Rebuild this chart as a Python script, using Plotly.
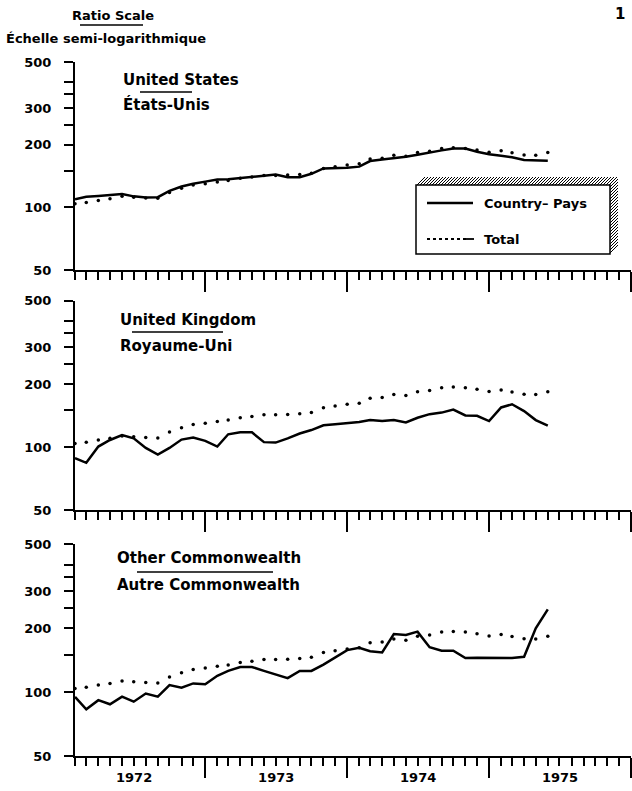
import plotly.graph_objects as go
import pandas as pd

# ---------------- data ----------------
start_month = "1972-02-01"
n_months = 41
months = pd.date_range(start_month, periods=n_months, freq="MS")

total = [104, 105.5, 108, 110, 113, 112, 111, 110.5, 118, 123.5,
         128, 130, 132.5, 134.5, 138, 140, 142.5, 142.5, 143, 144,
         146, 154, 157, 160, 162, 171, 172.5, 178, 176, 183.5,
         186, 192, 193.5, 192, 188.5, 184, 187, 183, 178.5, 178, 183.5]

united_states = [109.5, 112.5, 113.5, 114.5, 116, 113, 111.5, 112, 120, 126,
                 130, 133, 136, 136.5, 138, 139.5, 142, 144, 139.5, 139.5,
                 145, 154, 154.5, 155, 157, 167, 170, 172, 175, 179,
                 184, 188, 192, 192, 185, 180, 177, 174, 169, 168, 167.5]

united_kingdom = [88.5, 84, 100.5, 108, 114, 110, 99, 92, 99, 108.5,
                  111, 107, 100.5, 115, 117.5, 117.5, 105.5, 105, 110, 116,
                  120.5, 127, 128.5, 130.5, 131.5, 134.5, 133, 134.5, 131, 138,
                  143.5, 146, 151, 141.5, 141, 133, 154.5, 160, 148.5, 134.5, 126.5]

other_commonwealth = [95, 83, 91.7, 87.7, 95.3, 90.2, 98.5, 95.3, 108, 105,
                      110, 109, 119.5, 126, 131.5, 131.5, 126, 121.5, 116.5, 126,
                      126, 135, 146, 158, 162, 156, 154, 188, 186, 193,
                      163, 157, 157, 145, 145.5, 145.5, 145.5, 145, 147, 200, 246]

countries = [united_states, united_kingdom, other_commonwealth]
titles_en = ["United States", "United Kingdom", "Other Commonwealth"]
titles_fr = ["États-Unis", "Royaume-Uni", "Autre Commonwealth"]

y_tickvals = [50, 100, 200, 300, 500]
y_ticktext = ["50", "100", "200", "300", "500"]
y_minor_tickvals = [150, 250, 350, 400]
x_range = ["1972-02-01", "1976-01-01"]

# ---------------- layout geometry ----------------
W, H = 632, 791
L, R, T, B = 75, 1, 62, 35
PW, PH = W - L - R, H - T - B


def px(x):
    return (x - L) / PW


def py(y):
    return (H - B - y) / PH


panel_px = [(62, 270), (300.7, 510), (544, 756)]
FONT = "DejaVu Sans"

fig = go.Figure()

layout = dict(
    width=W, height=H,
    margin=dict(l=L, r=R, t=T, b=B, pad=0),
    paper_bgcolor="white", plot_bgcolor="white",
    showlegend=False,
    font=dict(family=FONT, color="black", size=13, weight="bold"),
)

for k, country in enumerate(countries):
    sfx = "" if k == 0 else str(k + 1)
    xa, ya = "x" + sfx, "y" + sfx
    fig.add_trace(go.Scatter(x=months, y=total, mode="markers",
                             marker=dict(size=3.5, color="black"),
                             xaxis=xa, yaxis=ya, name="Total"))
    fig.add_trace(go.Scatter(x=months, y=country, mode="lines",
                             line=dict(color="black", width=2.5),
                             xaxis=xa, yaxis=ya, name="Country"))
    top, bot = panel_px[k]
    layout["xaxis" + sfx] = dict(
        type="date", range=x_range, domain=[0, 1], anchor=ya,
        showline=True, linewidth=2, linecolor="black", showgrid=False, zeroline=False,
        ticks="outside", tickmode="linear", tick0="1972-01-01", dtick="M12",
        ticklen=20, tickwidth=2, tickcolor="black",
        ticklabelmode="period", tickformat="%Y",
        showticklabels=(k == 2), ticklabelstandoff=-12,
        tickfont=dict(family=FONT, size=13, color="black", weight="bold"),
        minor=dict(ticks="outside", tick0="1972-01-01", dtick="M1",
                   ticklen=8, tickwidth=1.5, tickcolor="black", showgrid=False),
    )
    layout["yaxis" + sfx] = dict(
        type="log", range=[1.69897, 2.69897], domain=[py(bot), py(top)], anchor=xa,
        showline=True, linewidth=2, linecolor="black", showgrid=False, zeroline=False,
        tickmode="array", tickvals=y_tickvals, ticktext=y_ticktext,
        ticks="outside", ticklen=9, tickwidth=2, tickcolor="black",
        ticklabelstandoff=10,
        tickfont=dict(family=FONT, size=13, color="black", weight="bold"),
        minor=dict(ticks="outside", tickvals=y_minor_tickvals, ticklen=9,
                   tickwidth=2, tickcolor="black", showgrid=False),
    )

fig.update_layout(**layout)

ann = []
shapes = []


def text(x, y, s, size=13, anchor="left"):
    ann.append(dict(x=px(x), y=py(y), xref="paper", yref="paper", text=s,
                    showarrow=False, xanchor=anchor, yanchor="middle",
                    font=dict(family=FONT, size=size, color="black", weight="bold")))


def hline(x0, x1, y, width=1.5, dash="solid"):
    shapes.append(dict(type="line", xref="paper", yref="paper",
                       x0=px(x0), x1=px(x1), y0=py(y), y1=py(y),
                       line=dict(color="black", width=width, dash=dash)))


# header
text(113, 15, "Ratio Scale", anchor="center")
hline(80, 143, 25, 1.5)
text(4, 38, "Échelle semi-logarithmique")
text(627, 14, "1", size=15, anchor="right")

# panel titles
title_pos = [(121, 80, 140, 192, 92, 105), (118, 320, 132, 223, 332, 346),
             (115, 558, 137, 273, 572, 585)]
for k in range(3):
    x0, y0, u0, u1, uy, y1 = title_pos[k]
    text(x0, y0, titles_en[k], size=15)
    hline(u0, u1, uy, 1.3)
    text(x0, y1, titles_fr[k], size=15)

# legend box with hatched "3D" faces
bx0, bx1, by0, by1, d = 416, 610, 185, 254, 8
shapes.append(dict(type="rect", xref="paper", yref="paper",
                   x0=px(bx0), x1=px(bx1), y0=py(by1), y1=py(by0),
                   line=dict(color="black", width=1.5), fillcolor="white", layer="above"))
path = ""
x = bx0 + 1
while x <= bx1:
    path += f"M{px(x)},{py(by0)} L{px(x + d)},{py(by0 - d)} "
    x += 3
y = by0 + 2
while y <= by1:
    path += f"M{px(bx1)},{py(y)} L{px(bx1 + d)},{py(y - d)} "
    y += 3
shapes.append(dict(type="path", xref="paper", yref="paper", path=path,
                   line=dict(color="black", width=1)))

hline(427, 473, 203, 2.5)
text(482, 203, "Country– Pays")
hline(427, 466, 239, 1.8, "dot")
hline(466, 474, 239, 1.8)
text(482, 239, "Total")

fig.update_layout(annotations=ann, shapes=shapes)
fig.write_html("out.html",
               config={"displayModeBar": False},
               post_script="document.body.style.margin='0';document.body.style.overflow='hidden';")
